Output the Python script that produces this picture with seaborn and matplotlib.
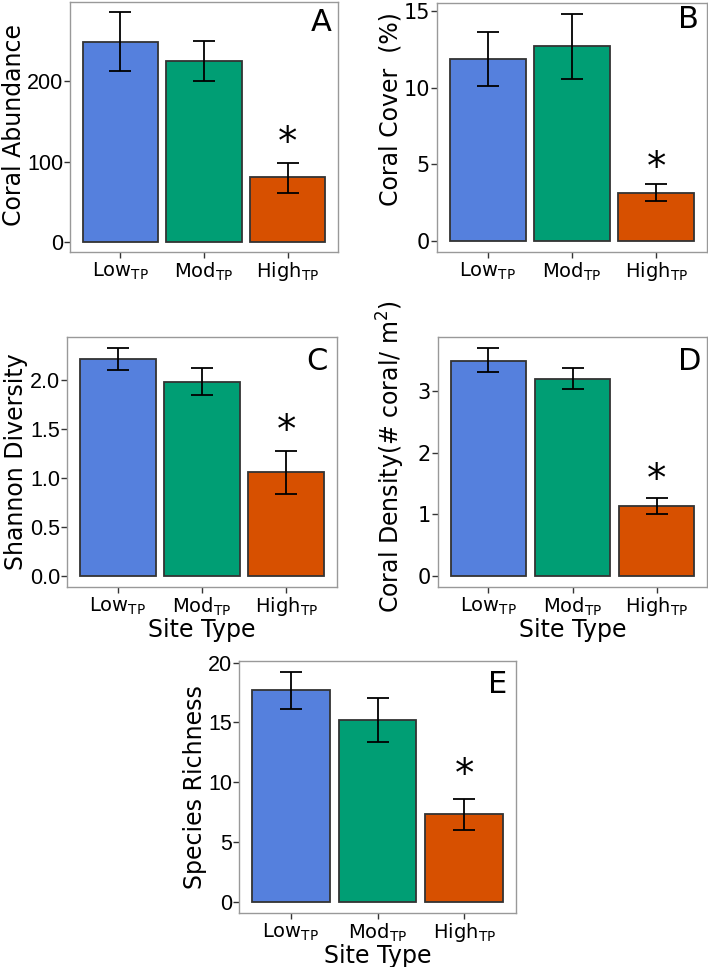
import numpy as np
import pandas as pd
import matplotlib
matplotlib.use("Agg")
import matplotlib.pyplot as plt
import seaborn as sns

# -------------------------------
# data
# -------------------------------
sites = ["Low", "Mod", "High"]
site_labels = [r"Low$_{\mathrm{TP}}$", r"Mod$_{\mathrm{TP}}$", r"High$_{\mathrm{TP}}$"]
bar_colors = ["#5580DD", "#009E74", "#D75000"]

abund_mean = [249, 226, 81]
abund_lo = [213, 200, 61]
abund_hi = [286, 251, 99]

cover_mean = [11.9, 12.7, 3.16]
cover_lo = [10.1, 10.6, 2.62]
cover_hi = [13.65, 14.8, 3.71]

shannon_mean = [2.21, 1.98, 1.06]
shannon_lo = [2.10, 1.84, 0.84]
shannon_hi = [2.32, 2.12, 1.27]

density_mean = [3.50, 3.21, 1.13]
density_lo = [3.31, 3.04, 1.00]
density_hi = [3.71, 3.38, 1.27]

rich_mean = [17.7, 15.2, 7.35]
rich_lo = [16.15, 13.35, 6.0]
rich_hi = [19.2, 17.0, 8.6]

W, H = 708, 967

sns.set_theme(style="white")
plt.rcParams['font.family'] = ['DejaVu Sans']
plt.rcParams['text.color'] = 'black'
plt.rcParams['axes.labelcolor'] = 'black'
plt.rcParams['xtick.labelcolor'] = 'black'
plt.rcParams['ytick.labelcolor'] = 'black'

fig = plt.figure(figsize=(W / 100, H / 100), dpi=100)


def make_axes(left, right, top, bottom):
    return fig.add_axes([left / W, 1 - bottom / H, (right - left) / W, (bottom - top) / H])


def panel(ax, mean, lo, hi, ylim, yticks, fmt, ylabel, letter, letter_xy,
          star_y, ylab_xy, narrow, xlabel=None):
    df = pd.DataFrame({"site": sites, "value": mean})
    sns.barplot(data=df, x="site", y="value", hue="site", palette=bar_colors,
                saturation=1, width=0.9, edgecolor="#333333", linewidth=1.3,
                errorbar=None, legend=False, ax=ax)
    m = np.array(mean)
    yerr = [m - np.array(lo), np.array(hi) - m]
    ax.errorbar(range(3), m, yerr=yerr, fmt="none", ecolor="black",
                elinewidth=1.3, capsize=8, capthick=1.3, zorder=5)
    ax.text(2, star_y, "*", ha="center", va="center", fontsize=28)
    ax.text(letter_xy[0], letter_xy[1], letter, transform=ax.transAxes,
            ha="right", va="top", fontsize=22)
    ax.set_xlim(-0.6, 2.6)
    ax.set_ylim(*ylim)
    ax.set_yticks(yticks)
    ax.set_yticklabels([fmt.format(t) for t in yticks])
    ax.set_xticks(range(3))
    ax.set_xticklabels(site_labels, fontsize=14)
    for t in ax.get_yticklabels():
        if narrow:
            t.set_family(['Liberation Sans', 'DejaVu Sans'])
            t.set_fontsize(15.5)
        else:
            t.set_fontsize(15)
    ax.tick_params(axis="both", which="both", length=4, width=1, color="#333333",
                   bottom=True, left=True)
    ax.tick_params(axis="y", pad=1)
    ax.tick_params(axis="x", pad=2)
    for s in ax.spines.values():
        s.set_color("#999999")
        s.set_linewidth(1.0)
    ax.set_ylabel(ylabel, fontsize=17)
    ax.yaxis.set_label_coords(*ylab_xy)
    if xlabel:
        ax.set_xlabel(xlabel, fontsize=17, labelpad=0)
    else:
        ax.set_xlabel("")


axA = make_axes(70, 338, 2, 252)
panel(axA, abund_mean, abund_lo, abund_hi, (-12.5, 299), [0, 100, 200], "{:.0f}",
      "Coral Abundance", "A", (0.978, 0.975), 123, (-0.165, 0.51), True)

axB = make_axes(437, 707, 3, 252)
panel(axB, cover_mean, cover_lo, cover_hi, (-0.72, 15.54), [0, 5, 10, 15], "{:.0f}",
      "Coral Cover  (%)", "B", (0.97, 0.99), 4.77, (-0.127, 0.574), False)

axC = make_axes(67, 337, 337, 587)
panel(axC, shannon_mean, shannon_lo, shannon_hi, (-0.112, 2.434),
      [0.0, 0.5, 1.0, 1.5, 2.0], "{:.1f}",
      "Shannon Diversity", "C", (0.967, 0.96), 1.476, (-0.145, 0.5), True, "Site Type")

axD = make_axes(438, 707, 337, 587)
panel(axD, density_mean, density_lo, density_hi, (-0.184, 3.887), [0, 1, 2, 3], "{:.0f}",
      r"Coral Density(# coral/ m$^2$)", "D", (0.978, 0.96), 1.56, (-0.117, 0.52),
      False, "Site Type")

axE = make_axes(239, 516, 661, 913)
panel(axE, rich_mean, rich_lo, rich_hi, (-0.95, 20.13), [0, 5, 10, 15, 20], "{:.0f}",
      "Species Richness", "E", (0.967, 0.964), 10.6, (-0.115, 0.5), True, "Site Type")

fig.savefig("out.png", dpi=100)
